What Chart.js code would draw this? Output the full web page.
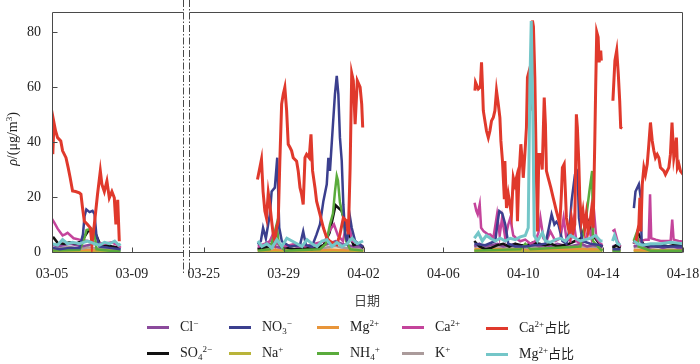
<!DOCTYPE html>
<html>
<head>
<meta charset="utf-8">
<script src="https://cdn.jsdelivr.net/npm/chart.js@4.4.0/dist/chart.umd.min.js"></script>
<style>
body { margin: 0; background: #fff; }
#wrap { position: relative; width: 700px; height: 364px; font-family: "Liberation Serif", "Noto Sans CJK SC", serif; color: #222; }
#chart { position: absolute; left: 0; top: 0; }
.ytitle { position: absolute; left: -47px; top: 130px; width: 120px; height: 18px; line-height: 18px; text-align: center; font-size: 14px; transform: rotate(-90deg); }
.xtitle { position: absolute; left: 337px; top: 290px; width: 60px; text-align: center; font-family: "Noto Sans CJK SC", sans-serif; font-size: 13px; color: #444; }
.item { position: absolute; height: 18px; line-height: 18px; font-size: 14px; white-space: nowrap; }
.item .ln { display: inline-block; width: 22px; height: 3px; vertical-align: middle; margin-right: 11px; }
.item .cjk { font-family: "Noto Sans CJK SC", sans-serif; font-size: 13px; }
sup, sub { font-size: 9px; line-height: 0; }
sup { vertical-align: 5px; }
sub { vertical-align: -3px; }
</style>
</head>
<body>
<div id="wrap">
  <canvas id="chart" width="700" height="364"></canvas>
  <div class="ytitle"><i>ρ</i>/(μg/m<sup>3</sup>)</div>
  <div class="xtitle">日期</div>
  <div id="legend"></div>
</div>
<script>
// x axis: days since 03-05, with 03-11 .. 03-24 cut out
const tickDays = [0, 4, 20, 24, 28, 32, 36, 40, 44];
const tickLabels = ['03-05', '03-09', '03-25', '03-29', '04-02', '04-06', '04-10', '04-14', '04-18'];
const yTicks = [0, 20, 40, 60, 80];
const cutFrom = 6.55, cutTo = 19.25, cutGap = 0.3;

// shared time grid for the low, flat series (one list per measuring period)
const baseT = [
    [0.05, 0.3, 0.6, 0.9, 1.2, 1.5, 1.8, 2.1, 2.4, 2.7, 3.0, 3.4],
    [22.7, 23.0, 23.3, 23.6, 23.9, 24.2, 24.5, 24.8, 25.1, 25.4, 25.7, 26.0, 26.3, 26.6, 26.9, 27.2, 27.5, 27.8, 28.0],
    [33.55, 33.8, 34.1, 34.4, 34.7, 35.0, 35.3, 35.6, 35.9, 36.2, 36.5, 36.8, 37.1, 37.4, 37.7, 38.0, 38.3, 38.6, 38.9, 39.2, 39.5, 39.8, 39.97],
    [40.47, 40.67, 40.87],
    [41.53, 41.75, 42.0, 42.25, 42.5, 42.75, 43.0, 43.25, 43.5, 43.75, 44.0]
];

const clVals = [
    [2.5, 2.0, 2.5, 3.0, 2.5, 2.0, 2.5, 3.0, 2.5, 2.0, 2.0, 1.5],
    [1.5, 2.0, 3.0, 2.0, 1.5, 2.0, 2.5, 1.5, 2.0, 1.5, 2.0, 2.5, 3.0, 4.0, 3.0, 2.5, 2.0, 2.0, 1.5],
    [2.0, 3.0, 2.0, 2.5, 3.0, 2.0, 2.5, 3.0, 2.0, 2.5, 3.0, 2.0, 2.5, 2.0, 3.0, 2.5, 2.0, 2.5, 3.0, 2.0, 2.5, 2.0, 2.0],
    [2.0, 2.5, 1.5],
    [2.0, 2.5, 2.0, 1.5, 2.0, 2.0, 1.5, 2.0, 2.0, 1.5, 1.5]
];
const so4Vals = [
    [5.5, 3.2, 3.0, 3.5, 3.0, 4.0, 7.5, 8.0, 3.0, 2.5, 2.0, 1.5],
    [1.0, 1.5, 2.0, 4.0, 2.0, 1.5, 1.0, 1.0, 1.5, 1.0, 1.5, 2.5, 7.0, 17.0, 15.0, 8.0, 2.5, 3.0, 1.5],
    [4.0, 2.0, 1.0, 1.5, 2.5, 3.0, 2.0, 3.0, 2.5, 2.5, 3.5, 3.0, 2.5, 3.0, 2.0, 2.5, 3.0, 4.0, 5.0, 12.0, 6.0, 3.0, 2.0],
    [1.5, 2.5, 1.5],
    [3.0, 7.0, 3.0, 2.0, 2.5, 2.0, 2.5, 2.0, 2.5, 2.5, 2.5]
];
const mgVals = [
    [0.8, 0.7, 0.9, 0.8, 0.7, 0.9, 0.8, 0.7, 0.8, 0.9, 0.7, 0.6],
    [0.6, 0.8, 0.7, 0.9, 0.8, 0.6, 0.7, 0.8, 0.7, 0.6, 0.8, 0.7, 0.9, 0.8, 0.7, 0.6, 0.8, 0.7, 0.6],
    [1.2, 1.0, 1.1, 1.3, 1.2, 1.0, 1.1, 1.2, 1.3, 1.1, 1.0, 1.2, 1.1, 1.3, 1.2, 1.0, 1.1, 1.2, 1.3, 1.1, 1.0, 1.2, 1.1],
    [0.8, 0.9, 0.7],
    [0.7, 0.8, 0.6, 0.7, 0.8, 0.6, 0.7, 0.8, 0.7, 0.6, 0.7]
];
const naVals = [
    [0.4, 0.3, 0.4, 0.5, 0.3, 0.4, 0.3, 0.4, 0.5, 0.3, 0.4, 0.3],
    [0.3, 0.4, 0.3, 0.5, 0.4, 0.3, 0.4, 0.3, 0.4, 0.5, 0.3, 0.4, 0.3, 0.5, 0.4, 0.3, 0.4, 0.3, 0.4],
    [0.4, 0.5, 0.3, 0.4, 0.5, 0.4, 0.3, 0.4, 0.5, 0.4, 0.3, 0.4, 0.5, 0.4, 0.3, 0.4, 0.5, 0.4, 0.3, 0.4, 0.5, 0.4, 0.3],
    [0.4, 0.3, 0.4],
    [0.3, 0.4, 0.5, 0.3, 0.4, 0.3, 0.4, 0.5, 0.3, 0.4, 0.3]
];
const kVals = [
    [1.5, 1.2, 1.6, 1.8, 1.4, 1.2, 1.7, 1.5, 1.2, 1.6, 1.3, 1.1],
    [1.2, 1.6, 1.4, 1.9, 1.3, 1.5, 1.2, 1.6, 1.4, 1.2, 1.7, 1.5, 1.8, 2.2, 1.6, 1.4, 1.7, 1.3, 1.2],
    [1.8, 2.2, 1.6, 1.9, 2.1, 1.7, 1.6, 2.0, 1.8, 1.5, 1.9, 1.7, 2.0, 1.6, 1.8, 2.1, 1.7, 1.9, 2.2, 1.8, 2.0, 1.6, 1.5],
    [1.5, 1.8, 1.4],
    [1.6, 1.9, 1.5, 1.7, 1.6, 1.8, 1.5, 1.7, 1.6, 1.8, 1.5]
];

// series with their own [day, value] points, one list per period
const no3Pts = [
    [[0.03, 1.5], [0.38, 1.0], [0.88, 1.5], [1.38, 1.5], [1.55, 6.4], [1.63, 13], [1.72, 15.5], [1.88, 14.5], [2.03, 15], [2.13, 13.8], [2.22, 6.4], [2.38, 2], [2.89, 1.5], [3.44, 1]],
    [[22.71, 2.7], [22.86, 4], [22.97, 8.8], [23.11, 5], [23.31, 13.7], [23.40, 22], [23.56, 23.4], [23.68, 34.3], [23.78, 8.8], [23.91, 3.9], [24.31, 2], [24.82, 2.5], [24.98, 7.5], [25.12, 2.5], [25.42, 2], [25.65, 6.4], [25.82, 10], [25.99, 18.5], [26.16, 24.6], [26.24, 34.3], [26.32, 29.5], [26.46, 45.3], [26.57, 57.4], [26.66, 64.1], [26.74, 57.4], [26.82, 41.6], [26.91, 33.1], [26.99, 17.3], [27.08, 6.4], [27.18, 3.9], [27.33, 12.4], [27.41, 8.8], [27.58, 4], [27.83, 2.5], [27.98, 2]],
    [[33.55, 3], [34.10, 2.5], [34.60, 4], [34.70, 10], [34.80, 14.9], [34.95, 14], [35.10, 10], [35.25, 3], [35.60, 2], [36.10, 2], [36.61, 2.5], [37.11, 3], [37.26, 8], [37.42, 13.7], [37.56, 10], [37.66, 11], [37.76, 10], [37.96, 4], [38.16, 3], [38.31, 8], [38.42, 18.5], [38.59, 28.2], [38.72, 29.5], [38.79, 12.4], [38.96, 4], [39.36, 3], [39.87, 2.5], [39.97, 2]],
    [[40.47, 1], [40.87, 1]],
    [[41.54, 16], [41.62, 22], [41.79, 24.6], [41.88, 20], [41.93, 3], [42.13, 2.5], [42.63, 2], [43.13, 2], [43.63, 2], [44.0, 2]]
];
const caPts = [
    [[0, 12], [0.13, 10.5], [0.28, 8.5], [0.43, 7], [0.53, 6], [0.68, 6.5], [0.78, 7], [0.93, 6], [1.08, 5], [1.38, 4.5], [1.79, 4], [2.13, 3.5], [2.63, 3], [2.99, 3.5], [3.29, 2.5], [3.44, 1.5]],
    [[22.71, 2], [23.06, 3], [23.31, 4], [23.46, 6.4], [23.66, 3], [24.06, 2], [24.57, 3], [25.07, 2], [25.57, 3], [26.07, 4], [26.32, 8], [26.52, 10], [26.72, 6], [26.97, 4], [27.12, 9], [27.28, 10], [27.43, 4], [27.73, 3], [27.98, 2]],
    [[33.56, 17.9], [33.65, 15], [33.72, 13.7], [33.82, 17.3], [33.89, 8.8], [34.02, 7.5], [34.21, 6.5], [34.35, 6.4], [34.50, 5], [34.69, 13.7], [34.82, 6], [34.94, 12.4], [35.10, 5], [35.25, 10], [35.35, 12.4], [35.50, 6], [35.65, 5], [35.85, 3.9], [36.10, 4.5], [36.36, 3], [36.61, 4], [36.76, 7], [36.86, 12.4], [37.01, 5], [37.16, 4], [37.36, 7.5], [37.61, 4], [37.86, 5], [38.02, 12.4], [38.16, 5], [38.36, 4], [38.52, 11.2], [38.66, 4], [38.86, 3], [39.11, 4], [39.28, 8.8], [39.41, 5], [39.53, 16], [39.66, 5], [39.87, 3], [39.97, 2.5]],
    [[40.47, 7.5], [40.57, 8], [40.72, 4], [40.87, 2]],
    [[41.53, 3], [41.73, 5], [41.88, 4], [42.13, 4.5], [42.28, 4.5], [42.35, 21], [42.41, 5], [42.63, 4.5], [42.88, 4], [43.13, 4], [43.38, 4], [43.46, 11.8], [43.53, 4.5], [43.78, 4], [44.0, 3.8]]
];
const nh4Pts = [
    [[0.03, 0.5], [1.38, 0.8], [1.58, 4], [1.73, 8], [1.98, 8.5], [2.13, 7], [2.23, 1], [2.89, 0.5], [3.44, 0.5]],
    [[22.71, 0.5], [23.31, 1], [23.51, 6], [23.65, 10], [23.76, 3], [24.06, 0.5], [25.82, 1], [26.12, 3], [26.32, 10], [26.47, 14], [26.57, 22], [26.66, 27.6], [26.72, 26], [26.82, 18], [26.99, 12.4], [27.13, 4], [27.33, 1], [27.98, 0.5]],
    [[33.55, 0.5], [35.85, 1], [36.10, 3], [36.36, 1], [38.86, 2], [39.01, 7], [39.16, 13], [39.31, 22], [39.45, 29.5], [39.49, 4], [39.87, 1], [39.97, 0.5]],
    [[40.47, 0.5], [40.87, 0.5]],
    [[41.53, 4], [41.68, 7], [41.78, 2], [42.38, 0.5], [44.0, 0.5]]
];
const caRatioPts = [
    [[0.04, 35.6], [0.10, 47], [0.18, 44], [0.28, 41.6], [0.44, 40.4], [0.53, 36.8], [0.70, 34.3], [0.81, 30.7], [0.91, 27], [1.03, 22.2], [1.18, 22], [1.37, 21.5], [1.45, 21], [1.53, 16], [1.62, 11.2], [1.78, 10], [1.92, 8.8], [2.00, 2.7], [2.12, 10], [2.28, 21], [2.42, 29.5], [2.50, 24.6], [2.62, 22], [2.75, 25.8], [2.87, 19.7], [3.00, 22], [3.12, 19.7], [3.20, 10], [3.29, 19], [3.37, 3.9]],
    [[22.69, 26.4], [22.89, 33.7], [22.97, 22], [23.06, 14.9], [23.14, 12.4], [23.23, 21.5], [23.31, 17.3], [23.40, 11.2], [23.48, 6.4], [23.56, 3.9], [23.65, 8.8], [23.73, 11.2], [23.81, 33], [23.90, 53.8], [23.98, 57.4], [24.06, 59.9], [24.15, 51.4], [24.23, 39.2], [24.32, 38], [24.40, 36.8], [24.48, 34.3], [24.65, 33], [24.73, 29.5], [24.82, 23.4], [24.90, 21], [24.98, 17.3], [25.07, 34.3], [25.15, 35.5], [25.28, 34.3], [25.37, 42.8], [25.45, 29.5], [25.57, 23.4], [25.65, 18.5], [25.82, 13.7], [25.99, 8.8], [26.16, 5.1], [26.32, 3.9], [26.49, 3.3], [26.66, 2.7], [26.82, 6.4], [26.99, 12.4], [27.16, 11.2], [27.24, 6.4], [27.33, 30.7], [27.41, 65], [27.49, 62.3], [27.58, 46.5], [27.69, 62.3], [27.83, 60], [27.91, 53.8], [27.96, 45.3]],
    [[33.58, 58.7], [33.61, 61.7], [33.75, 59.3], [33.85, 60], [33.91, 69], [33.95, 61.7], [34.00, 51.4], [34.08, 47.7], [34.16, 44], [34.25, 41.6], [34.33, 44], [34.41, 47.7], [34.50, 48.9], [34.58, 51.4], [34.66, 58.7], [34.75, 53.8], [34.83, 48.9], [34.88, 40.4], [34.96, 33.1], [35.05, 19.7], [35.08, 33.1], [35.16, 16], [35.25, 21], [35.33, 17.3], [35.41, 13.7], [35.50, 27], [35.58, 24.6], [35.66, 27], [35.71, 11.2], [35.78, 27], [35.88, 39.2], [35.95, 33.1], [36.00, 27], [36.08, 35.5], [36.16, 45.3], [36.21, 63.5], [36.30, 66], [36.35, 51.4], [36.41, 57.4], [36.46, 84.2], [36.51, 82], [36.58, 63.5], [36.66, 27], [36.71, 7.5], [36.78, 35.5], [36.88, 35.5], [36.95, 30], [37.05, 56.2], [37.11, 46.5], [37.16, 29.5], [37.25, 27], [37.38, 23.4], [37.50, 19.7], [37.58, 17.3], [37.66, 14.9], [37.75, 12.4], [37.83, 10], [37.91, 21], [37.96, 30.7], [38.05, 32], [38.11, 22], [38.16, 12.4], [38.25, 8.8], [38.33, 6.4], [38.41, 12.4], [38.50, 7.5], [38.58, 10], [38.66, 50.1], [38.71, 45.3], [38.78, 33.1], [38.83, 19.7], [38.91, 11.2], [38.99, 14.9], [39.08, 8.8], [39.16, 13.7], [39.25, 7.5], [39.33, 10], [39.41, 14.9], [39.50, 8.8], [39.58, 39.2], [39.63, 61.1], [39.68, 80], [39.75, 78.1], [39.80, 69], [39.88, 73.3], [39.91, 69.6]],
    [[40.49, 55], [40.59, 69.6], [40.68, 73.3], [40.76, 64.7], [40.83, 55], [40.88, 45.3], [40.96, 45]],
    [[41.62, 3], [41.79, 10], [41.84, 19.7], [41.89, 7.5], [41.96, 24.6], [42.04, 30.7], [42.12, 28.2], [42.21, 32], [42.29, 39.2], [42.37, 47.1], [42.46, 40.4], [42.54, 36.8], [42.62, 34.3], [42.71, 35.5], [42.79, 34.3], [42.87, 30.7], [43.04, 29.5], [43.12, 28.2], [43.29, 30.7], [43.37, 35.5], [43.45, 47.1], [43.54, 34.3], [43.62, 38], [43.67, 41.6], [43.72, 30.7], [43.79, 32], [43.87, 29.5], [44.0, 28.2]]
];
const mgRatioPts = [
    [[0, 3], [0.28, 2.5], [0.53, 4.5], [0.78, 3], [1.03, 3.5], [1.38, 3], [1.78, 4], [2.13, 3], [2.38, 2.5], [2.63, 3.5], [2.89, 3], [3.14, 4], [3.34, 2.5], [3.44, 3]],
    [[22.71, 4], [22.91, 2], [23.16, 3], [23.41, 1.5], [23.66, 4.5], [23.91, 2], [24.16, 5], [24.42, 4], [24.67, 3], [24.92, 2], [25.17, 4.5], [25.42, 3], [25.67, 2], [25.92, 4], [26.17, 4.5], [26.42, 2], [26.67, 3.5], [26.92, 2], [27.18, 3], [27.43, 5], [27.68, 3], [27.98, 4]],
    [[33.55, 5], [33.75, 7], [33.95, 4], [34.15, 6], [34.35, 5], [34.60, 4], [34.85, 5], [35.10, 4], [35.35, 5], [35.60, 4.5], [35.85, 5.5], [36.10, 6], [36.25, 8.8], [36.33, 60], [36.40, 84], [36.48, 50], [36.55, 6], [36.71, 4], [36.96, 7], [37.11, 4], [37.36, 3.5], [37.61, 4.5], [37.86, 5], [38.11, 4], [38.36, 6], [38.61, 5], [38.86, 4], [39.11, 4.5], [39.36, 5], [39.62, 6], [39.87, 4], [39.97, 4]],
    [[40.47, 4], [40.57, 6], [40.72, 3], [40.87, 2.5]],
    [[41.53, 4], [41.73, 3], [41.98, 2.5], [42.38, 3], [42.88, 3], [43.38, 3.5], [44.0, 3]]
];

// legend order (row by row)
const seriesNames = ['Cl⁻', 'NO₃⁻', 'Mg²⁺', 'Ca²⁺', 'Ca²⁺占比', 'SO₄²⁻', 'Na⁺', 'NH₄⁺', 'K⁺', 'Mg²⁺占比'];
const legendHtml = ['Cl<sup>−</sup>', 'NO<sub>3</sub><sup>−</sup>', 'Mg<sup>2+</sup>', 'Ca<sup>2+</sup>', 'Ca<sup>2+</sup><span class="cjk">占比</span>',
    'SO<sub>4</sub><sup>2−</sup>', 'Na<sup>+</sup>', 'NH<sub>4</sub><sup>+</sup>', 'K<sup>+</sup>', 'Mg<sup>2+</sup><span class="cjk">占比</span>'];
const seriesColors = ['#8b4a9c', '#3b3f8e', '#e8953a', '#c4449b', '#e0392c', '#111111', '#b9b43a', '#5aab3c', '#ab9b9b', '#74c6c8'];

function toAxis(t) {
    return t > cutFrom ? t - (cutTo - cutFrom) + cutGap : t;
}

function fromSegments(segs) {
    var pts = [];
    segs.forEach(function (seg, i) {
        if (i > 0) pts.push({ x: toAxis(seg[0][0]) - 0.01, y: null });
        seg.forEach(function (p) { pts.push({ x: toAxis(p[0]), y: p[1] }); });
    });
    return pts;
}

function fromGrid(vals) {
    return fromSegments(baseT.map(function (seg, i) {
        return seg.map(function (t, j) { return [t, vals[i][j]]; });
    }));
}

const seriesData = [fromGrid(clVals), fromSegments(no3Pts), fromGrid(mgVals), fromSegments(caPts), fromSegments(caRatioPts),
    fromGrid(so4Vals), fromGrid(naVals), fromSegments(nh4Pts), fromGrid(kVals), fromSegments(mgRatioPts)];
const drawOrder = [6, 2, 8, 4, 1, 5, 9, 3, 7, 0];

// legend below the plot
const legendCols = [147, 229, 317, 402, 486];
const legendRows = [327, 353];
var legend = document.getElementById('legend');
seriesNames.forEach(function (name, i) {
    var d = document.createElement('div');
    d.className = 'item';
    d.style.left = legendCols[i % 5] + 'px';
    d.style.top = (legendRows[Math.floor(i / 5)] - 9) + 'px';
    d.innerHTML = '<span class="ln" style="background:' + seriesColors[i] + '"></span>' + legendHtml[i];
    legend.appendChild(d);
});

// frame with the axis break, inner tick marks
const framePlugin = {
    id: 'frame',
    afterDatasetsDraw: function (chart) {
        var ctx = chart.ctx, a = chart.chartArea, x = chart.scales.x, y = chart.scales.y;
        var L = Math.round(a.left) + 0.5, R = Math.round(a.right) - 0.5;
        var T = Math.round(a.top) + 0.5, B = Math.round(a.bottom) + 0.5;
        var b1 = Math.round(x.getPixelForValue(cutFrom)) + 0.5;
        var b2 = Math.round(x.getPixelForValue(cutFrom + cutGap)) + 0.5;
        ctx.save();
        ctx.strokeStyle = '#4a4a4a';
        ctx.lineWidth = 1;
        ctx.beginPath();
        ctx.moveTo(L, T); ctx.lineTo(L, B);
        ctx.moveTo(R, T); ctx.lineTo(R, B);
        ctx.moveTo(L, T); ctx.lineTo(b1, T);
        ctx.moveTo(b2, T); ctx.lineTo(R, T);
        ctx.moveTo(L, B); ctx.lineTo(b1, B);
        ctx.moveTo(b2, B); ctx.lineTo(R, B);
        yTicks.forEach(function (v) {
            var py = Math.round(y.getPixelForValue(v)) + 0.5;
            ctx.moveTo(L, py); ctx.lineTo(L + 5, py);
        });
        tickDays.forEach(function (d) {
            var px = Math.round(x.getPixelForValue(toAxis(d))) + 0.5;
            ctx.moveTo(px, B); ctx.lineTo(px, B - 5);
        });
        ctx.stroke();
        ctx.setLineDash([7, 2, 1.5, 2]);
        ctx.beginPath();
        ctx.moveTo(b1, 0); ctx.lineTo(b1, 274);
        ctx.moveTo(b2, 0); ctx.lineTo(b2, 274);
        ctx.stroke();
        ctx.restore();
    }
};

new Chart(document.getElementById('chart').getContext('2d'), {
    type: 'line',
    data: {
        datasets: seriesNames.map(function (name, i) {
            return {
                label: name,
                data: seriesData[i],
                borderColor: seriesColors[i],
                backgroundColor: seriesColors[i],
                borderWidth: (i === 4 || i === 9) ? 3 : 2.5,
                pointRadius: 0,
                tension: 0,
                spanGaps: false,
                order: drawOrder[i]
            };
        })
    },
    options: {
        responsive: false,
        animation: false,
        devicePixelRatio: 1,
        layout: { padding: { left: 0, top: 12, right: 17, bottom: 72 } },
        plugins: { legend: { display: false }, tooltip: { enabled: false } },
        scales: {
            x: {
                type: 'linear',
                min: 0,
                max: toAxis(44),
                grid: { display: false, drawTicks: false },
                border: { display: false },
                afterBuildTicks: function (s) {
                    s.ticks = tickDays.map(function (d) { return { value: toAxis(d) }; });
                },
                afterFit: function (s) {
                    s.height = 40;
                    s.paddingLeft = 0;
                    s.paddingRight = 0;
                },
                ticks: {
                    autoSkip: false,
                    maxRotation: 0,
                    padding: 14,
                    color: '#222',
                    font: { family: 'Liberation Serif', size: 14 },
                    callback: function (v, i) { return tickLabels[i]; }
                }
            },
            y: {
                min: 0,
                max: 87.3,
                grid: { display: false, drawTicks: false },
                border: { display: false },
                afterBuildTicks: function (s) {
                    s.ticks = yTicks.map(function (v) { return { value: v }; });
                },
                afterFit: function (s) {
                    s.width = 52;
                    s.paddingTop = 0;
                    s.paddingBottom = 0;
                },
                ticks: {
                    padding: 11,
                    color: '#222',
                    font: { family: 'Liberation Serif', size: 14 }
                }
            }
        }
    },
    plugins: [framePlugin]
});
</script>
</body>
</html>
